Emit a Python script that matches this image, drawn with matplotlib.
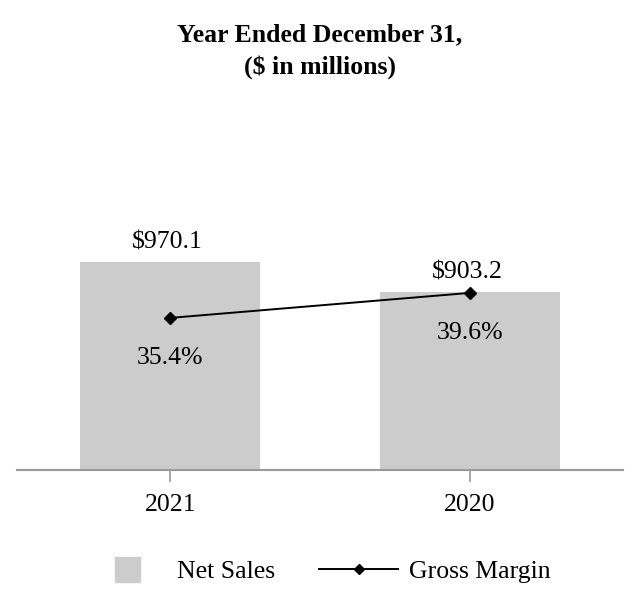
import matplotlib.pyplot as plt
from matplotlib.lines import Line2D

plt.rcParams['font.family'] = ['Liberation Serif', 'DejaVu Serif']

years = ['2021', '2020']
net_sales = [970.1, 903.2]
gross_margin = [35.4, 39.6]
sales_labels = ['$970.1', '$903.2']
margin_labels = ['35.4%', '39.6%']

FS = 18.5
GREY = '#cccccc'

fig = plt.figure(figsize=(6.4, 6.12), dpi=100)
ax = fig.add_axes([0.027, 0.232, 0.946, 0.523])
x = [0, 1]
ax.bar(x, net_sales, width=0.6, color=GREY, zorder=1)
ax.set_xlim(-0.51, 1.51)
ax.set_ylim(506, 1220)

# gross margin on its own scale
ax2 = ax.twinx()
ax2.plot(x, gross_margin, color='black', lw=1.4, marker='D', ms=6, zorder=3)
ax2.set_ylim(9.86, 63.6)

for a in (ax, ax2):
    for s in ['top', 'right', 'left']:
        a.spines[s].set_visible(False)
    a.set_yticks([])
ax2.spines['bottom'].set_visible(False)
ax.spines['bottom'].set_color('#999999')
ax.spines['bottom'].set_linewidth(1.5)
ax.set_xticks(x, years, fontsize=FS)
ax.tick_params(axis='x', length=8.6, width=1.2, color='#999999', pad=9)

for i, v in enumerate(net_sales):
    ax.annotate(sales_labels[i], (x[i], v), xytext=(-2, 10), textcoords='offset points',
                ha='center', va='baseline', fontsize=FS)
for i, v in enumerate(gross_margin):
    ax2.annotate(margin_labels[i], (x[i], v), xytext=(0, -33), textcoords='offset points',
                 ha='center', va='baseline', fontsize=FS)

fig.text(0.5, 0.933, 'Year Ended December 31,', ha='center', va='baseline',
         fontsize=FS, fontweight='bold')
fig.text(0.5, 0.880, '($ in millions)', ha='center', va='baseline',
         fontsize=FS, fontweight='bold')

handles = [Line2D([], [], color=GREY, marker='s', ms=18, ls='none'),
           Line2D([], [], color='black', lw=1.4, marker='D', ms=5.5)]
fig.legend(handles, ['Net Sales', 'Gross Margin'], loc='center', bbox_to_anchor=(0.498, 0.066),
           ncol=2, frameon=False, fontsize=FS, handlelength=3.1, numpoints=1,
           columnspacing=1.7, handletextpad=0.4)

fig.savefig('out.png')
